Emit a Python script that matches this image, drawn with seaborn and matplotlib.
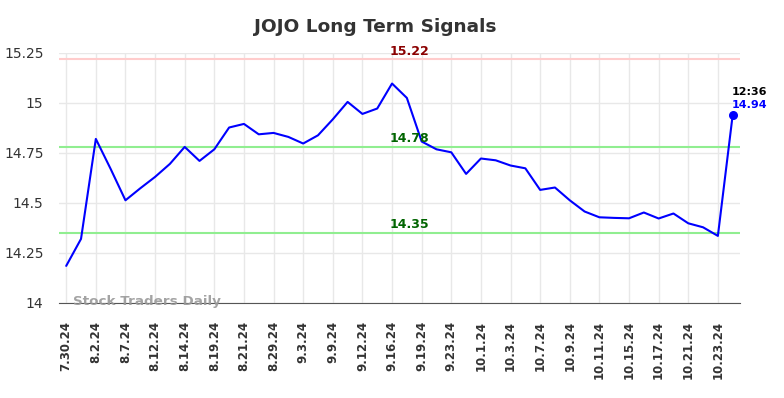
import matplotlib
matplotlib.use("Agg")
import matplotlib.pyplot as plt
import pandas as pd
import seaborn as sns

tick_labels = ['7.30.24', '8.2.24', '8.7.24', '8.12.24', '8.14.24', '8.19.24',
               '8.21.24', '8.29.24', '9.3.24', '9.9.24', '9.12.24', '9.16.24',
               '9.19.24', '9.23.24', '10.1.24', '10.3.24', '10.7.24', '10.9.24',
               '10.11.24', '10.15.24', '10.17.24', '10.21.24', '10.23.24']

prices = [14.185, 14.32, 14.82, 14.67, 14.513, 14.573, 14.63, 14.695, 14.78,
          14.71, 14.768, 14.877, 14.895, 14.843, 14.85, 14.83, 14.797, 14.838,
          14.918, 15.005, 14.945, 14.972, 15.097, 15.025, 14.807, 14.768,
          14.753, 14.645, 14.722, 14.713, 14.687, 14.673, 14.565, 14.577,
          14.513, 14.457, 14.428, 14.425, 14.423, 14.452, 14.422, 14.447,
          14.398, 14.378, 14.335, 14.94]

resistance = 15.22
supports = [14.78, 14.35]
last_time = '12:36'


def show(df):
    sns.set_style("white")
    fig = plt.figure(figsize=(7.84, 3.98), dpi=100)
    ax = fig.add_axes([0.075, 0.239, 0.869, 0.628])

    sns.lineplot(data=df, x='idx', y='price', color='blue', linewidth=1.5, ax=ax)
    last = df.iloc[-1]
    ax.scatter([last['idx']], [last['price']], color='blue', s=30, zorder=5)

    ax.axhline(resistance, color='#ffcccc', linewidth=1.5, zorder=1)
    for s in supports:
        ax.axhline(s, color='#90ee90', linewidth=1.5, zorder=1)

    mid = 23.2
    ax.text(mid, resistance + 0.005, f'{resistance:.2f}', color='darkred',
            fontsize=9, fontweight='bold', ha='center', va='bottom')
    for s in supports:
        ax.text(mid, s + 0.008, f'{s:.2f}', color='darkgreen',
                fontsize=9, fontweight='bold', ha='center', va='bottom')

    # last price annotation
    ax.text(last['idx'] - 0.05, last['price'] + 0.09, last_time, color='black',
            fontsize=8, fontweight='bold', ha='left', va='bottom')
    ax.text(last['idx'] - 0.05, last['price'] + 0.025, f"{last['price']:.2f}",
            color='blue', fontsize=8, fontweight='bold', ha='left', va='bottom')

    ax.text(0.45, 14.005, 'Stock Traders Daily', color='#999999', fontsize=9.7,
            fontweight='bold', ha='left', va='center', alpha=0.9)

    ax.set_xlim(-0.5, len(prices) - 0.5)
    ax.set_ylim(14, 15.25)
    ax.set_xticks(range(0, 2 * len(tick_labels), 2))
    ax.set_xticklabels(tick_labels, rotation=90, fontsize=8.5, fontweight='bold',
                       color='#333333')
    ax.set_yticks([14, 14.25, 14.5, 14.75, 15, 15.25])
    ax.set_yticklabels(['14', '14.25', '14.5', '14.75', '15', '15.25'],
                       fontsize=10, color='#333333')
    ax.tick_params(axis='x', length=0, pad=13)
    ax.tick_params(axis='y', length=0, pad=11)
    ax.grid(True, color='#e8e8e8', linewidth=1)
    ax.set_axisbelow(True)
    ax.set_xlabel('')
    ax.set_ylabel('')
    for side in ['top', 'right', 'left']:
        ax.spines[side].set_visible(False)
    ax.spines['bottom'].set_color('#555555')

    fig.suptitle('JOJO Long Term Signals', x=0.478, y=0.955, fontsize=13.3,
                 fontweight='bold', color='#333333')
    fig.savefig('out.png', dpi=100)


def main():
    df = pd.DataFrame({'idx': range(len(prices)), 'price': prices})
    show(df)


if __name__ == '__main__':
    main()
